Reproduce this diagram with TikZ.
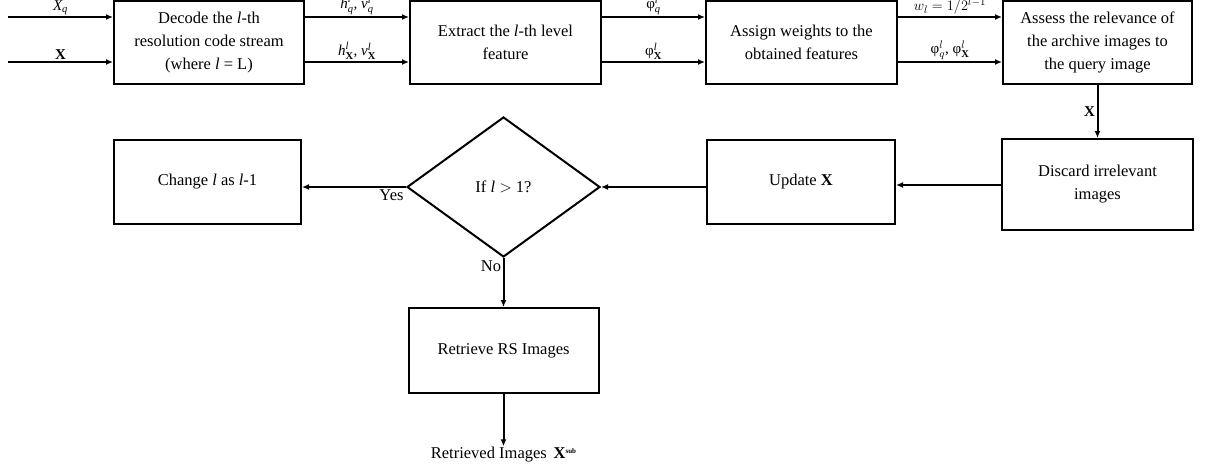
\documentclass[tikz,border=0pt]{standalone}
\usepackage{amsmath}
\usepackage{fontspec}
\setmainfont{Liberation Serif}
\usetikzlibrary{shapes.geometric,arrows.meta}
\begin{document}
\begin{tikzpicture}[x=1pt,y=-1pt,
  font=\fontsize{16.5}{23}\selectfont,
  blk/.style={draw, line width=2pt, align=center, inner sep=2pt},
  arr/.style={line width=2pt, -{Latex[length=7pt,width=6pt]}},
  lbl/.style={font=\fontsize{15}{17}\selectfont, inner sep=1.5pt}]
\useasboundingbox (0,0) rectangle (1205,472);

% top row of processing steps
\node[blk, minimum width=190, minimum height=83] (dec) at (209,42.5)
  {Decode the \textit{l}-th\\resolution code stream\\(where \textit{l} = L)};
\node[blk, minimum width=191, minimum height=83] (ext) at (505.5,42.5)
  {Extract the \textit{l}-th level\\feature};
\node[blk, minimum width=191, minimum height=83] (asg) at (801.5,42.5)
  {Assign weights to the\\obtained features};
\node[blk, minimum width=189, minimum height=83] (ass) at (1097.5,42.5)
  {Assess the relevance of\\the archive images to\\the query image};

% second row
\node[blk, minimum width=191, minimum height=91] (dis) at (1097.5,184.5)
  {Discard irrelevant\\images};
\node[blk, minimum width=188, minimum height=84] (upd) at (801,182)
  {Update \textbf{X}};
\node[draw, diamond, line width=2pt, minimum width=193, minimum height=140,
  inner sep=0pt] (dia) at (503.5,187) {If \textit{l} {\fontfamily{lmr}\selectfont >} 1?};
\node[blk, minimum width=187, minimum height=84] (chg) at (207.5,182)
  {Change \textit{l} as \textit{l}-1};

% final step and output
\node[blk, minimum width=190, minimum height=85] (ret) at (503.5,350.5)
  {Retrieve RS Images};
\node[inner sep=1pt] (out) at (503.5,455)
  {Retrieved Images \,\textbf{X}\raisebox{0.75ex}{\fontsize{7}{7}\selectfont\bfseries sub}};

% inputs
\coordinate (inq) at (8,17);
\coordinate (inx) at (8,62);
\draw[arr] (inq) -- (inq -| dec.west)
  node[lbl, midway, above] {$\textit{X}_{\textit{q}}$};
\draw[arr] (inx) -- (inx -| dec.west)
  node[lbl, midway, above] {\textbf{X}};

% flow along the top row
\draw[arr] (inq -| dec.east) -- (inq -| ext.west)
  node[lbl, midway, above] {$\textit{h}^{\textit{l}}_{\textit{q}}$, $\textit{v}^{\textit{l}}_{\textit{q}}$};
\draw[arr] (inx -| dec.east) -- (inx -| ext.west)
  node[lbl, midway, above] {$\textit{h}^{\textit{l}}_{\textbf{X}}$, $\textit{v}^{\textit{l}}_{\textbf{X}}$};
\draw[arr] (inq -| ext.east) -- (inq -| asg.west)
  node[lbl, midway, above] {φ$^{\textit{l}}_{\textit{q}}$};
\draw[arr] (inx -| ext.east) -- (inx -| asg.west)
  node[lbl, midway, above] {φ$^{\textit{l}}_{\textbf{X}}$};
\draw[arr] (inq -| asg.east) -- (inq -| ass.west)
  node[lbl, midway, above] {$w_l = 1/2^{l-1}$};
\draw[arr] (inx -| asg.east) -- (inx -| ass.west)
  node[lbl, midway, above] {φ$^{l}_{q}$, φ$^{l}_{\mathbf{X}}$};

% feedback loop
\draw[arr] (ass.south) -- (dis.north)
  node[lbl, midway, left] {\textbf{X}};
\draw[arr] (dis.west |- 0,185) -- (upd.east |- 0,185);
\draw[arr] (upd.west |- dia.east) -- (dia.east);
\draw[arr] (dia.west) -- (chg.east |- dia.west)
  node[lbl, pos=0, below left, font=\fontsize{16.5}{18}\selectfont] {Yes};
\draw[arr] (dia.south) -- (ret.north)
  node[lbl, pos=0, below left, font=\fontsize{16.5}{18}\selectfont] {No};
\draw[arr] (ret.south) -- (out.north);
\end{tikzpicture}
\end{document}
